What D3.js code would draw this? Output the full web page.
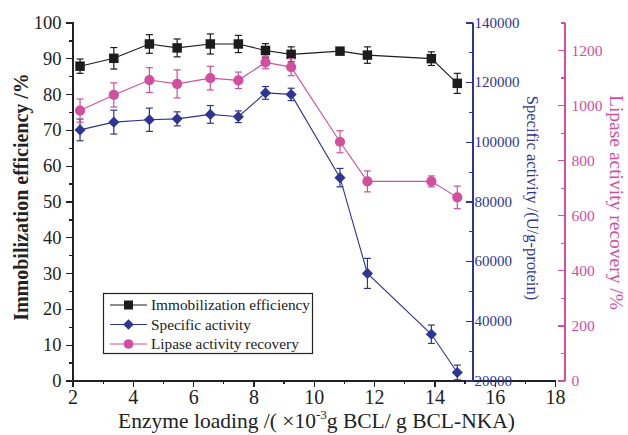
<!DOCTYPE html>
<meta charset="utf-8">
<style>
body{margin:0;background:#fff;}
svg text{font-family:"Liberation Serif","Times New Roman",serif;}
.axis path,.axis line{shape-rendering:crispEdges;}
</style>
<body>
<script src="https://cdn.jsdelivr.net/npm/d3@7"></script>
<script>

// enzyme loading (x 10^-3 g BCL / g BCL-NKA)
var loading = [2.25, 3.37, 4.55, 5.47, 6.57, 7.5, 8.4, 9.25, 10.87, 11.78, 13.9, 14.76];
// immobilization efficiency /%
var immob = [87.8, 90.0, 94.0, 92.9, 94.0, 94.0, 92.2, 91.1, 92.0, 90.9, 89.9, 83.0];
var immobErr = [2.0, 3.0, 2.6, 2.5, 2.8, 2.4, 1.9, 2.1, 0.6, 2.3, 1.9, 2.8];
// specific activity /(U/g-protein)
var specific = [104000, 106600, 107400, 107700, 109200, 108400, 116400, 115900, 88000, 55900, 35500, 22700];
var specificErr = [3650, 4000, 3900, 2350, 2970, 1960, 2130, 2070, 3080, 5040, 3080, 2460];
// lipase activity recovery /%
var recovery = [980, 1037, 1091, 1077, 1098, 1090, 1155, 1138, 867, 723, 723, 665];
var recoveryErr = [42, 44, 45, 51, 43, 30, 23, 31, 40, 38, 20, 41];

var xTicks = [2, 4, 6, 8, 10, 12, 14, 16, 18];
var leftTicks = [0, 10, 20, 30, 40, 50, 60, 70, 80, 90, 100];
var blueTicks = [20000, 40000, 60000, 80000, 100000, 120000, 140000];
var pinkTicks = [0, 200, 400, 600, 800, 1000, 1200];
var seriesNames = ["Immobilization efficiency", "Specific activity", "Lipase activity recovery"];

var BLACK = "#1c1c1c", BLUE = "#2e3592", PINK = "#d14f9e";

var svg = d3.select("body").append("svg").attr("width", 628).attr("height", 435);

var yTop = 22.5, yBottom = 380.5;
var x = d3.scaleLinear().domain([2, 18]).range([72.5, 555]);
var yL = d3.scaleLinear().domain([0, 100]).range([yBottom, yTop]);
var yB = d3.scaleLinear().domain([20000, 140000]).range([yBottom, yTop]);
var yP = d3.scaleLinear().domain([0, 1300]).range([yBottom, yTop]);
var blueX = 472.5, pinkX = 564.5;

// ---- x axis
var gx = svg.append("g").attr("class", "axis").attr("transform", "translate(0," + yBottom + ")");
gx.append("g").call(d3.axisBottom(x).tickValues(d3.range(3, 18, 2)).tickSize(3).tickFormat(""));
gx.append("g").call(d3.axisBottom(x).tickValues(xTicks).tickSizeInner(6).tickSizeOuter(0).tickPadding(3).tickFormat(d3.format("d")));
gx.selectAll("text").attr("font-size", 20).attr("fill", "#222");
gx.selectAll("path,line").attr("stroke", "#222").attr("stroke-width", 1.3);

// ---- left axis
var gl = svg.append("g").attr("class", "axis").attr("transform", "translate(72.5,0)");
gl.append("g").call(d3.axisLeft(yL).tickValues(d3.range(5, 100, 10)).tickSize(4).tickFormat(""));
gl.append("g").call(d3.axisLeft(yL).tickValues(leftTicks).tickSizeInner(7).tickSizeOuter(0).tickPadding(4));
gl.selectAll("text").attr("font-size", 18.5).attr("fill", "#222");
gl.selectAll("path,line").attr("stroke", "#222").attr("stroke-width", 1.3);

// ---- blue (specific activity) axis
var gb = svg.append("g").attr("class", "axis").attr("transform", "translate(" + blueX + ",0)");
gb.append("g").call(d3.axisRight(yB).tickValues(d3.range(30000, 140000, 20000)).tickSizeInner(-4).tickSizeOuter(0).tickFormat(""));
gb.append("g").call(d3.axisRight(yB).tickValues(blueTicks).tickSizeInner(-7).tickSizeOuter(0).tickPadding(2).tickFormat(d3.format("d")));
gb.selectAll("text").attr("font-size", 15).attr("fill", BLUE);
gb.selectAll("path,line").attr("stroke", BLUE).attr("stroke-width", 1.3);

// ---- pink (recovery) axis
var gp = svg.append("g").attr("class", "axis").attr("transform", "translate(" + pinkX + ",0)");
gp.append("g").call(d3.axisRight(yP).tickValues(d3.range(100, 1400, 200)).tickSizeInner(-4).tickSizeOuter(0).tickFormat(""));
gp.append("g").call(d3.axisRight(yP).tickValues(pinkTicks).tickSizeInner(-7).tickSizeOuter(0).tickPadding(7).tickFormat(d3.format("d")));
gp.selectAll("text").attr("font-size", 15.5).attr("fill", PINK);
gp.selectAll("path,line").attr("stroke", PINK).attr("stroke-width", 1.3);

// ---- axis titles
svg.append("text")
  .attr("transform", "translate(28,197) rotate(-90)")
  .attr("text-anchor", "middle").attr("font-size", 20).attr("font-weight", "bold").attr("fill", "#222")
  .text("Immobilization efficiency /%");

var xt = svg.append("text").attr("x", 316.5).attr("y", 428)
  .attr("text-anchor", "middle").attr("font-size", 21.5).attr("fill", "#222");
xt.append("tspan").text("Enzyme loading /( \u00d710");
xt.append("tspan").attr("font-size", 13).attr("dy", -9).text("-3");
xt.append("tspan").attr("dy", 9).text("g BCL/ g BCL-NKA)");

svg.append("text")
  .attr("transform", "translate(527,198) rotate(90)")
  .attr("text-anchor", "middle").attr("font-size", 16.5).attr("fill", BLUE)
  .text("Specific activity /(U/g-protein)");

svg.append("text")
  .attr("transform", "translate(610,202.5) rotate(90)")
  .attr("text-anchor", "middle").attr("font-size", 19.5).attr("fill", PINK)
  .text("Lipase activity recovery /%");

// ---- series
var series = [
  {name: seriesNames[0], vals: immob, errs: immobErr, y: yL, color: BLACK, sym: d3.symbolSquare, size: 90, rot: 0},
  {name: seriesNames[1], vals: specific, errs: specificErr, y: yB, color: BLUE, sym: d3.symbolSquare, size: 62, rot: 45},
  {name: seriesNames[2], vals: recovery, errs: recoveryErr, y: yP, color: PINK, sym: d3.symbolCircle, size: 82, rot: 0}
];

series.forEach(function(s){
  var pts = loading.map(function(d, i){ return {x: d, v: s.vals[i], e: s.errs[i]}; });
  var g = svg.append("g");
  g.append("path").datum(pts)
    .attr("fill", "none").attr("stroke", s.color).attr("stroke-width", 1.1)
    .attr("d", d3.line().x(function(d){ return x(d.x); }).y(function(d){ return s.y(d.v); }));
  var eb = g.selectAll(".err").data(pts).enter().append("g").attr("stroke", s.color).attr("stroke-width", 1.2);
  eb.append("line")
    .attr("x1", function(d){ return x(d.x); }).attr("x2", function(d){ return x(d.x); })
    .attr("y1", function(d){ return s.y(d.v - d.e); }).attr("y2", function(d){ return s.y(d.v + d.e); });
  [-1, 1].forEach(function(sg){
    eb.append("line")
      .attr("x1", function(d){ return x(d.x) - 3.5; }).attr("x2", function(d){ return x(d.x) + 3.5; })
      .attr("y1", function(d){ return s.y(d.v + sg * d.e); }).attr("y2", function(d){ return s.y(d.v + sg * d.e); });
  });
  g.selectAll(".mk").data(pts).enter().append("path")
    .attr("transform", function(d){ return "translate(" + x(d.x) + "," + s.y(d.v) + ") rotate(" + s.rot + ")"; })
    .attr("d", d3.symbol().type(s.sym).size(s.size))
    .attr("fill", s.color);
});

// ---- legend
var lg = svg.append("g");
lg.append("rect").attr("x", 103.5).attr("y", 293.5).attr("width", 209).attr("height", 60)
  .attr("fill", "#fff").attr("stroke", "#222").attr("stroke-width", 1.2);
series.forEach(function(s, i){
  var yy = 305 + i * 19.5;
  lg.append("line").attr("x1", 110).attr("x2", 147).attr("y1", yy).attr("y2", yy)
    .attr("stroke", s.color).attr("stroke-width", 1.1);
  lg.append("path").attr("transform", "translate(128.5," + yy + ") rotate(" + s.rot + ")")
    .attr("d", d3.symbol().type(s.sym).size(s.size * 0.9)).attr("fill", s.color);
  lg.append("text").attr("x", 151).attr("y", yy + 5).attr("font-size", 15.3).attr("fill", "#222").text(s.name);
});

</script>
</body>
